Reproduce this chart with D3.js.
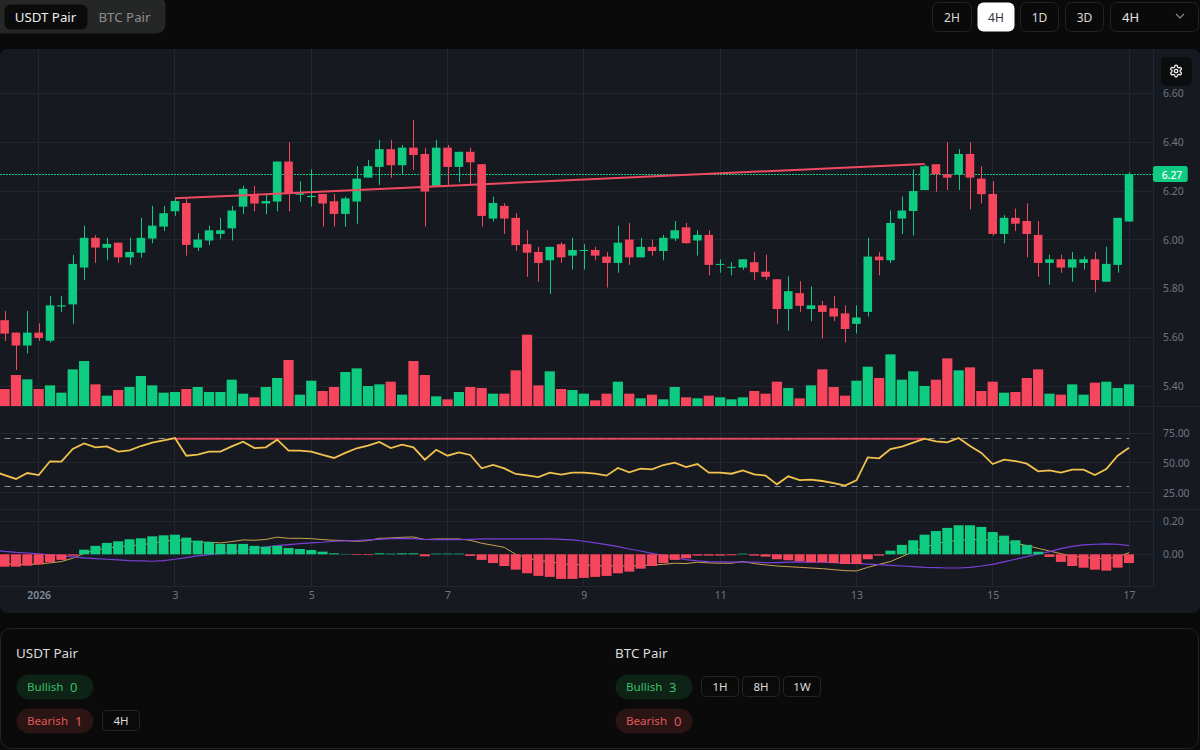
<!DOCTYPE html>
<meta charset="utf-8">
<style>
  body { margin: 0; background: #0a0a0a; overflow: hidden; }
  svg { display: block; font-family: "Noto Sans", sans-serif; }
</style>

<script src="https://d3js.org/d3.v7.min.js"></script>

<svg id="chart" width="1200" height="750"></svg>

<script>

// Candles, one every 4 hours
const opens = [
  5.670, 5.619, 5.566, 5.619, 5.586, 5.726, 5.735, 5.886, 6.008, 5.967,
  5.988, 5.928, 5.947, 6.005, 6.054, 6.117, 6.151, 5.968, 5.997, 6.024,
  6.047, 6.136, 6.188, 6.149, 6.157, 6.321, 6.185, 6.175, 6.188, 6.158,
  6.106, 6.157, 6.255, 6.299, 6.372, 6.306, 6.378, 6.352, 6.221, 6.378,
  6.299, 6.361, 6.310, 6.087, 6.139, 6.090, 5.982, 5.950, 5.916, 5.982,
  5.935, 5.954, 5.958, 5.931, 5.905, 6.001, 5.928, 5.971, 5.954, 6.005,
  6.051, 5.997, 6.020, 5.897, 5.886, 5.886, 5.908, 5.869, 5.838, 5.716,
  5.781, 5.716, 5.731, 5.719, 5.698, 5.655, 5.704, 5.931, 5.916, 6.087,
  6.118, 6.204, 6.310, 6.269, 6.268, 6.352, 6.251, 6.188, 6.024, 6.090,
  6.077, 6.020, 5.905, 5.920, 5.886, 5.905, 5.920, 5.828, 5.897, 6.075
];
const highs = [
  5.708, 5.619, 5.708, 5.657, 5.769, 5.769, 5.938, 6.058, 6.019, 6.008,
  5.988, 6.008, 6.090, 6.139, 6.139, 6.170, 6.168, 6.027, 6.058, 6.090,
  6.139, 6.221, 6.221, 6.185, 6.321, 6.400, 6.240, 6.289, 6.188, 6.188,
  6.177, 6.302, 6.328, 6.410, 6.410, 6.389, 6.492, 6.378, 6.410, 6.389,
  6.361, 6.378, 6.311, 6.177, 6.150, 6.109, 6.039, 5.971, 5.971, 5.990,
  6.008, 5.982, 5.971, 5.950, 6.058, 6.069, 6.008, 6.001, 6.020, 6.077,
  6.069, 6.039, 6.039, 5.920, 5.908, 5.920, 5.950, 5.939, 5.838, 5.850,
  5.830, 5.808, 5.749, 5.769, 5.731, 5.731, 6.008, 5.950, 6.120, 6.178,
  6.289, 6.307, 6.310, 6.400, 6.372, 6.400, 6.302, 6.240, 6.101, 6.128,
  6.150, 6.077, 5.939, 5.939, 5.950, 5.931, 5.950, 5.971, 6.090, 6.277
];
const lows = [
  5.585, 5.466, 5.534, 5.585, 5.578, 5.704, 5.655, 5.835, 5.905, 5.916,
  5.905, 5.897, 5.927, 5.986, 6.036, 6.098, 5.935, 5.954, 5.978, 6.004,
  5.997, 6.106, 6.117, 6.105, 6.117, 6.117, 6.157, 6.136, 6.054, 6.054,
  6.054, 6.066, 6.255, 6.225, 6.255, 6.268, 6.287, 6.054, 6.221, 6.225,
  6.236, 6.229, 6.054, 6.075, 6.024, 5.954, 5.848, 5.828, 5.778, 5.905,
  5.878, 5.878, 5.916, 5.804, 5.865, 5.897, 5.927, 5.935, 5.916, 5.995,
  5.984, 5.935, 5.854, 5.865, 5.854, 5.876, 5.835, 5.835, 5.655, 5.627,
  5.704, 5.666, 5.595, 5.666, 5.578, 5.615, 5.685, 5.854, 5.905, 6.024,
  6.017, 6.204, 6.197, 6.204, 6.204, 6.125, 6.149, 6.017, 5.986, 6.036,
  5.928, 5.848, 5.816, 5.865, 5.828, 5.878, 5.784, 5.828, 5.865, 6.075
];
const closes = [
  5.615, 5.566, 5.619, 5.597, 5.731, 5.731, 5.901, 6.008, 5.968, 5.983,
  5.928, 5.950, 6.008, 6.058, 6.109, 6.159, 5.979, 6.001, 6.039, 6.039,
  6.120, 6.209, 6.149, 6.159, 6.321, 6.188, 6.191, 6.180, 6.149, 6.106,
  6.170, 6.251, 6.302, 6.372, 6.306, 6.378, 6.348, 6.198, 6.378, 6.299,
  6.361, 6.318, 6.098, 6.151, 6.087, 5.978, 5.947, 5.905, 5.971, 5.928,
  5.958, 5.958, 5.935, 5.905, 5.988, 5.928, 5.971, 5.954, 6.008, 6.039,
  5.986, 6.020, 5.897, 5.901, 5.889, 5.920, 5.867, 5.848, 5.716, 5.789,
  5.729, 5.731, 5.704, 5.685, 5.634, 5.681, 5.931, 5.916, 6.069, 6.120,
  6.200, 6.302, 6.269, 6.255, 6.352, 6.255, 6.187, 6.024, 6.090, 6.066,
  6.024, 5.905, 5.920, 5.886, 5.920, 5.920, 5.835, 5.901, 6.090, 6.270
];
const volumes = [
  51, 93, 80, 51, 62, 40, 110, 135, 65, 31,
  48, 57, 90, 62, 40, 42, 51, 57, 42, 42,
  79, 37, 26, 57, 84, 138, 34, 76, 45, 57,
  102, 113, 60, 65, 73, 34, 135, 93, 29, 20,
  42, 57, 54, 37, 37, 107, 214, 62, 104, 51,
  48, 37, 17, 37, 73, 37, 23, 34, 20, 57,
  26, 23, 31, 26, 20, 26, 45, 37, 73, 54,
  23, 62, 110, 57, 31, 76, 118, 84, 155, 79,
  104, 60, 79, 143, 107, 116, 45, 73, 40, 42,
  84, 110, 37, 34, 65, 34, 70, 73, 54, 65
];

// Indicators. The line series start one candle before the left edge
const rsiValues = [
  42.9,
  39.8, 36.5, 41.5, 39.8, 51.3, 51.0, 61.6, 66.3, 63.0, 63.8,
  59.4, 60.5, 64.1, 66.9, 68.9, 70.8, 56.0, 56.9, 59.4, 59.4,
  63.8, 67.7, 62.4, 63.0, 69.4, 60.2, 60.2, 59.4, 56.6, 54.1,
  58.3, 62.2, 64.4, 67.5, 62.4, 65.2, 63.0, 52.7, 61.0, 56.0,
  58.8, 56.6, 45.4, 48.2, 45.4, 40.7, 39.5, 38.1, 41.8, 40.1,
  41.8, 41.8, 40.9, 39.3, 45.7, 42.1, 45.1, 44.6, 48.2, 50.2,
  46.5, 49.0, 41.8, 41.8, 40.9, 43.7, 40.4, 39.3, 32.0, 38.7,
  35.6, 35.9, 34.8, 33.1, 30.9, 35.4, 54.6, 53.8, 61.6, 63.6,
  66.9, 70.3, 68.0, 67.2, 70.8, 64.1, 58.3, 49.0, 52.7, 51.5,
  49.3, 42.9, 43.7, 41.8, 44.3, 44.3, 39.8, 44.8, 56.0, 62.7
];
const macdLine = [
  -0.060,
  -0.057, -0.063, -0.061, -0.059, -0.052, -0.044, -0.024, 0.006, 0.025, 0.039,
  0.045, 0.053, 0.057, 0.067, 0.077, 0.089, 0.081, 0.073, 0.073, 0.069,
  0.077, 0.087, 0.085, 0.090, 0.104, 0.097, 0.097, 0.095, 0.089, 0.085,
  0.083, 0.079, 0.083, 0.097, 0.099, 0.103, 0.105, 0.089, 0.093, 0.093,
  0.093, 0.085, 0.067, 0.055, 0.042, 0.000, -0.022, -0.038, -0.044, -0.058,
  -0.062, -0.064, -0.068, -0.072, -0.069, -0.073, -0.067, -0.065, -0.061, -0.054,
  -0.056, -0.048, -0.052, -0.054, -0.054, -0.044, -0.056, -0.064, -0.071, -0.075,
  -0.079, -0.083, -0.087, -0.093, -0.099, -0.101, -0.079, -0.061, -0.044, -0.014,
  0.016, 0.040, 0.065, 0.077, 0.085, 0.089, 0.089, 0.085, 0.073, 0.067,
  0.053, 0.036, 0.020, 0.004, -0.012, -0.018, -0.024, -0.028, -0.016, 0.010
];
const signalLine = [
  0.026,
  0.018, 0.012, 0.008, 0.002, -0.004, -0.010, -0.016, -0.022, -0.026, -0.030,
  -0.034, -0.038, -0.040, -0.042, -0.038, -0.030, -0.020, -0.010, -0.002, 0.006,
  0.014, 0.024, 0.034, 0.044, 0.053, 0.059, 0.065, 0.069, 0.073, 0.079,
  0.081, 0.083, 0.087, 0.091, 0.095, 0.097, 0.095, 0.091, 0.089, 0.089,
  0.089, 0.091, 0.093, 0.093, 0.093, 0.093, 0.093, 0.093, 0.093, 0.091,
  0.087, 0.079, 0.069, 0.059, 0.046, 0.032, 0.020, 0.006, -0.008, -0.020,
  -0.032, -0.040, -0.044, -0.046, -0.048, -0.048, -0.048, -0.050, -0.050, -0.048,
  -0.046, -0.048, -0.048, -0.050, -0.053, -0.055, -0.059, -0.063, -0.067, -0.071,
  -0.075, -0.079, -0.081, -0.083, -0.083, -0.079, -0.071, -0.061, -0.046, -0.030,
  -0.014, 0.002, 0.016, 0.034, 0.048, 0.057, 0.061, 0.063, 0.061, 0.053
];
const macdHist = [
  -0.075, -0.075, -0.069, -0.061, -0.048, -0.034, -0.008, 0.028, 0.051, 0.069,
  0.079, 0.091, 0.097, 0.109, 0.115, 0.119, 0.101, 0.083, 0.075, 0.063,
  0.063, 0.063, 0.051, 0.046, 0.051, 0.038, 0.032, 0.026, 0.016, 0.006,
  0.002, -0.004, -0.004, 0.006, 0.004, 0.006, 0.006, -0.012, 0.004, 0.004,
  0.004, -0.010, -0.034, -0.053, -0.071, -0.093, -0.115, -0.131, -0.137, -0.149,
  -0.149, -0.143, -0.137, -0.131, -0.115, -0.105, -0.087, -0.071, -0.053, -0.034,
  -0.024, -0.008, -0.008, -0.008, -0.006, 0.004, -0.008, -0.014, -0.030, -0.036,
  -0.042, -0.048, -0.048, -0.053, -0.059, -0.059, -0.030, -0.008, 0.022, 0.057,
  0.085, 0.119, 0.141, 0.160, 0.176, 0.176, 0.166, 0.135, 0.113, 0.085,
  0.057, 0.016, -0.016, -0.046, -0.071, -0.081, -0.093, -0.099, -0.081, -0.053
];

// Drawn overlays
const trendIndex = [15, 81];
const priceTrend = [6.170, 6.311];
const rsiTrend = [70.2, 70.2];
const rsiBands = [70, 30];
const lastPrice = 6.27;

// Axis ticks
const dayTickIndex = [3, 15, 27, 39, 51, 63, 75, 87, 99];
const dayTickLabels = ["2026", "3", "5", "7", "9", "11", "13", "15", "17"];
const priceTicks = [6.6, 6.4, 6.2, 6.0, 5.8, 5.6, 5.4];
const rsiTicks = [75, 50, 25];
const macdTicks = [0.2, 0];

// Page furniture labels
const rangeButtons = ["2H", "4H", "1D", "3D"];
const usdtTags = ["4H"];
const btcTags = ["1H", "8H", "1W"];

const green = "#0ecb81", red = "#f6465d";
const panelFill = "#161a20", gridColor = "#22262d", axisText = "#6f7680";
const snap = v => Math.floor(v) + 0.5;

const svg = d3.select("#chart");

// Scales
const x = d3.scaleLinear().domain([0, 99]).range([4.6, 1129]);
const yPrice = d3.scaleLinear().domain([5.4, 6.4]).range([386, 142.3]);
const yVolume = d3.scaleLinear().domain([0, d3.max(volumes)]).range([406, 334.7]);
const yRsi = d3.scaleLinear().domain([25, 75]).range([492.7, 433]);
const yMacd = d3.scaleLinear().domain([0, 0.2]).range([554.3, 521.3]);

const plotRight = 1153, plotTop = 49, plotBottom = 586.7;
const candleIndex = d3.range(closes.length);
const lineIndex = d3.range(-1, closes.length);

// Chart panel
svg.append("rect")
  .attr("x", 0).attr("y", plotTop).attr("width", 1200).attr("height", 564)
  .attr("rx", 8).attr("fill", panelFill);

const grid = svg.append("g").attr("stroke", gridColor).attr("stroke-width", 1);

// vertical grid on the day ticks
grid.selectAll(".vgrid").data(dayTickIndex).enter().append("line")
  .attr("x1", d => snap(x(d))).attr("x2", d => snap(x(d)))
  .attr("y1", plotTop).attr("y2", plotBottom);

// horizontal grid for the three panes
const hLines = priceTicks.map(d => yPrice(d))
  .concat(rsiTicks.map(d => yRsi(d)), macdTicks.map(d => yMacd(d)));
grid.selectAll(".hgrid").data(hLines).enter().append("line")
  .attr("x1", 0).attr("x2", plotRight)
  .attr("y1", d => snap(d)).attr("y2", d => snap(d));

// pane separators and right edge
grid.selectAll(".sep").data([406.7, 509.7]).enter().append("line")
  .attr("x1", 0).attr("x2", 1200)
  .attr("y1", d => snap(d)).attr("y2", d => snap(d));
grid.append("line").attr("x1", 0).attr("x2", plotRight)
  .attr("y1", snap(plotBottom)).attr("y2", snap(plotBottom));
grid.append("line").attr("x1", plotRight + 0.5).attr("x2", plotRight + 0.5)
  .attr("y1", plotTop).attr("y2", plotBottom);

// Volume bars sit under the candles
svg.append("g").selectAll("rect").data(candleIndex).enter().append("rect")
  .attr("x", d => x(d) - 5.1)
  .attr("width", 10.2)
  .attr("y", d => yVolume(volumes[d]))
  .attr("height", d => yVolume(0) - yVolume(volumes[d]))
  .attr("fill", d => closes[d] >= opens[d] ? green : red);

// Last price line
const lastY = Math.round(yPrice(lastPrice)) + 0.5;
svg.append("line")
  .attr("x1", 0).attr("x2", plotRight)
  .attr("y1", lastY).attr("y2", lastY)
  .attr("stroke", green).attr("stroke-width", 1)
  .attr("stroke-dasharray", "2 1");

// Candles
const candles = svg.append("g").selectAll("g").data(candleIndex).enter().append("g")
  .attr("fill", d => closes[d] >= opens[d] ? green : red)
  .attr("stroke", d => closes[d] >= opens[d] ? green : red);
candles.append("line")
  .attr("x1", d => Math.round(x(d)) + 0.5).attr("x2", d => Math.round(x(d)) + 0.5)
  .attr("y1", d => yPrice(highs[d])).attr("y2", d => yPrice(lows[d]))
  .attr("stroke-width", 1);
candles.append("rect")
  .attr("x", d => x(d) - 4.3)
  .attr("width", 8.6)
  .attr("y", d => yPrice(Math.max(opens[d], closes[d])))
  .attr("height", d => Math.max(1, Math.abs(yPrice(opens[d]) - yPrice(closes[d]))))
  .attr("stroke", "none");

// Price trendline
const trend = d3.line().x((d, i) => x(trendIndex[i]));
svg.append("path")
  .attr("d", trend.y(d => yPrice(d))(priceTrend))
  .attr("fill", "none").attr("stroke", "#f04a63").attr("stroke-width", 2);

// RSI pane
svg.append("g").selectAll("line").data(rsiBands).enter().append("line")
  .attr("x1", x(0)).attr("x2", x(99))
  .attr("y1", d => snap(yRsi(d))).attr("y2", d => snap(yRsi(d)))
  .attr("stroke", "#8a8f98").attr("stroke-width", 1)
  .attr("stroke-dasharray", "6 5");
svg.append("path")
  .attr("d", trend.y(d => yRsi(d))(rsiTrend))
  .attr("fill", "none").attr("stroke", "#f04a63").attr("stroke-width", 2)
  .attr("stroke-opacity", 0.9);
svg.append("path")
  .attr("d", d3.line().x((d, i) => x(lineIndex[i])).y(d => yRsi(d))(rsiValues))
  .attr("fill", "none").attr("stroke", "#f2c14e").attr("stroke-width", 1.8);

// MACD pane, the histogram covers the lines
const macdPath = d3.line().x((d, i) => x(lineIndex[i])).y(d => yMacd(d));
svg.append("path").attr("d", macdPath(macdLine))
  .attr("fill", "none").attr("stroke", "#c9a24e").attr("stroke-width", 1);
svg.append("path").attr("d", macdPath(signalLine))
  .attr("fill", "none").attr("stroke", "#7a3fd8").attr("stroke-width", 1.2);
svg.append("g").selectAll("rect").data(candleIndex).enter().append("rect")
  .attr("x", d => x(d) - 5)
  .attr("width", 10)
  .attr("y", d => yMacd(Math.max(0, macdHist[d])))
  .attr("height", d => Math.abs(yMacd(macdHist[d]) - yMacd(0)))
  .attr("fill", d => macdHist[d] >= 0 ? green : red);

// Right axes
function rightAxis(scale, ticks) {
  const g = svg.append("g")
    .attr("transform", "translate(1163,0)")
    .call(d3.axisRight(scale).tickValues(ticks).tickFormat(d3.format(".2f")).tickSize(0).tickPadding(0));
  g.select(".domain").remove();
  g.selectAll("text")
    .attr("fill", axisText).attr("font-size", 10.4)
    .attr("font-family", '"Noto Sans", sans-serif');
}
rightAxis(yPrice, priceTicks);
rightAxis(yRsi, rsiTicks);
rightAxis(yMacd, macdTicks);

// Last price tag
svg.append("rect")
  .attr("x", plotRight).attr("y", yPrice(lastPrice) - 8)
  .attr("width", 34.7).attr("height", 16).attr("rx", 2.5)
  .attr("fill", green);
svg.append("text")
  .attr("x", 1172).attr("y", yPrice(lastPrice) + 4.6)
  .attr("text-anchor", "middle").attr("font-size", 10.4).attr("font-weight", 500)
  .attr("fill", "#f4fff9").text(d3.format(".2f")(lastPrice));

// Day axis
const dayAxis = svg.append("g")
  .attr("transform", "translate(0,592)")
  .call(d3.axisBottom(x).tickValues(dayTickIndex)
    .tickFormat((d, i) => dayTickLabels[i]).tickSize(0).tickPadding(0));
dayAxis.select(".domain").remove();
dayAxis.selectAll("text")
  .attr("fill", (d, i) => i == 0 ? "#858c98" : axisText)
  .attr("font-weight", (d, i) => i == 0 ? 600 : 400)
  .attr("font-size", 10.4)
  .attr("font-family", '"Noto Sans", sans-serif');

// Settings button
svg.append("rect")
  .attr("x", 1161).attr("y", 57).attr("width", 31).attr("height", 29).attr("rx", 5)
  .attr("fill", "#0c0d0f");
const gear = svg.append("g")
  .attr("transform", "translate(1169,64) scale(0.59)")
  .attr("fill", "none").attr("stroke", "#f0f0f0").attr("stroke-width", 2.2);
gear.append("path").attr("d", "M12.22 2h-.44a2 2 0 0 0-2 2v.18a2 2 0 0 1-1 1.73l-.43.25a2 2 0 0 1-2 0l-.15-.08a2 2 0 0 0-2.73.73l-.22.38a2 2 0 0 0 .73 2.73l.15.1a2 2 0 0 1 1 1.72v.51a2 2 0 0 1-1 1.74l-.15.09a2 2 0 0 0-.73 2.73l.22.38a2 2 0 0 0 2.73.73l.15-.08a2 2 0 0 1 2 0l.43.25a2 2 0 0 1 1 1.73V20a2 2 0 0 0 2 2h.44a2 2 0 0 0 2-2v-.18a2 2 0 0 1 1-1.73l.43-.25a2 2 0 0 1 2 0l.15.08a2 2 0 0 0 2.73-.73l.22-.39a2 2 0 0 0-.73-2.73l-.15-.08a2 2 0 0 1-1-1.74v-.5a2 2 0 0 1 1-1.74l.15-.09a2 2 0 0 0 .73-2.73l-.22-.38a2 2 0 0 0-2.73-.73l-.15.08a2 2 0 0 1-2 0l-.43-.25a2 2 0 0 1-1-1.73V4a2 2 0 0 0-2-2z");
gear.append("circle").attr("cx", 12).attr("cy", 12).attr("r", 3);

// Small helper for labelled boxes
function box(x0, y0, w, h, r, fill, stroke) {
  svg.append("rect")
    .attr("x", x0 + 0.5).attr("y", y0 + 0.5).attr("width", w - 1).attr("height", h - 1).attr("rx", r)
    .attr("fill", fill).attr("stroke", stroke || "none");
}
function label(x0, y0, str, size, color, anchor) {
  svg.append("text")
    .attr("x", x0).attr("y", y0)
    .attr("font-size", size).attr("fill", color)
    .attr("text-anchor", anchor || "start")
    .attr("dominant-baseline", "central")
    .text(str);
}

// Pair tabs
box(-8, -4, 174, 38, 9, "#252626");
box(4, 4, 84, 26, 6, "#0b0b0b");
label(45.5, 17, "USDT Pair", 13.3, "#ececec", "middle");
label(124.5, 17, "BTC Pair", 13.3, "#8c8c8c", "middle");

// Interval buttons
const buttonX = [932, 977, 1020, 1065];
const buttonW = [40, 38, 39, 39];
rangeButtons.forEach((d, i) => {
  const active = d == "4H";
  box(buttonX[i], 2, buttonW[i], 30, 6, active ? "#ffffff" : "#0a0a0a", active ? null : "#222325");
  label(buttonX[i] + buttonW[i] / 2, 17, d, 12, active ? "#333" : "#dcdcdc", "middle");
});
box(1110, 2, 89, 30, 6, "#0a0a0a", "#222325");
label(1122, 17, "4H", 13, "#e4e4e4");
svg.append("path")
  .attr("d", "M1176 14l4 4l4 -4")
  .attr("fill", "none").attr("stroke", "#8c8c8c").attr("stroke-width", 1.2);

// Signal summary card
box(0, 628, 1199, 121, 10, "#0a0a0a", "#232425");

function pairSummary(x0, name, bullish, bearish, tags, tagRow) {
  label(x0, 653, name, 13.4, "#dcdcdc");
  box(x0, 674, 78, 26, 13, "#0c2315");
  label(x0 + 11, 686.5, "Bullish", 11.6, "#3cbf69");
  label(x0 + 54, 686.5, bullish, 13, "#3cbf69");
  box(x0, 708, 78, 26, 13, "#2a1414");
  label(x0 + 11, 720.5, "Bearish", 11.6, "#e05a5a");
  label(x0 + 59, 720.5, bearish, 13, "#e05a5a");
  tags.forEach((d, i) => {
    box(x0 + 86 + i * 41, tagRow, 38, 21, 4, "#0a0a0a", "#242526");
    label(x0 + 105 + i * 41, tagRow + 10.5, d, 11.5, "#dcdcdc", "middle");
  });
}
pairSummary(16, "USDT Pair", "0", "1", usdtTags, 710);
pairSummary(615, "BTC Pair", "3", "0", btcTags, 676);

</script>
